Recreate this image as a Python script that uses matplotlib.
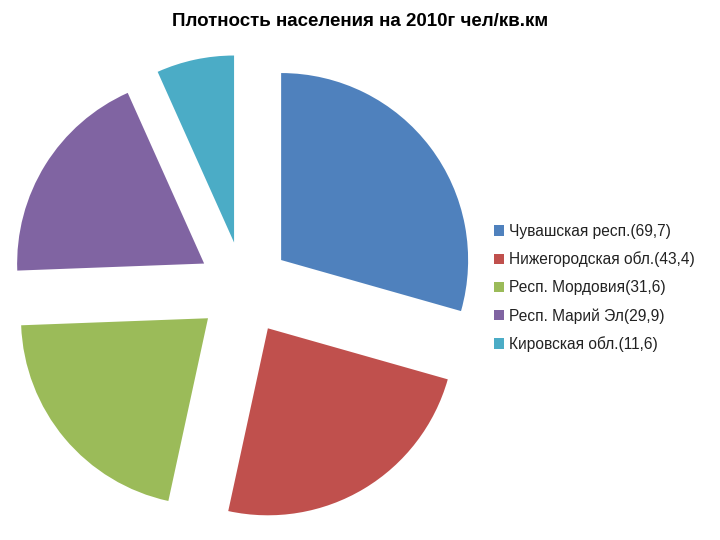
import matplotlib
matplotlib.use('Agg')
import matplotlib.pyplot as plt

TITLE = 'Плотность населения на 2010г чел/кв.км'
legend_labels = [
    'Чувашская респ.(69,7)',
    'Нижегородская обл.(43,4)',
    'Респ. Мордовия(31,6)',
    'Респ. Марий Эл(29,9)',
    'Кировская обл.(11,6)',
]
# slice shares as drawn in the picture
shares = [29.4, 24.0, 21.0, 18.9, 6.7]
colors = ['#4F81BD', '#C0504D', '#9BBB59', '#8064A2', '#4BACC6']


def main():
    plt.rcParams['font.family'] = ['Liberation Sans', 'DejaVu Sans']
    fig = plt.figure(figsize=(7.2, 5.4), dpi=100)
    ax = fig.add_axes([0, 0, 480 / 720, 500 / 540])
    wedges, _ = ax.pie(
        shares,
        colors=colors,
        startangle=90,
        counterclock=False,
        explode=[0.25] * len(shares),
    )
    ax.set_xlim(-1.304, 1.263)
    ax.set_ylim(-1.346, 1.327)
    ax.axis('off')

    fig.text(0.5, 1 - 21 / 540, TITLE, ha='center', va='center',
             fontsize=13.5, fontweight='bold')

    fig.legend(wedges, legend_labels, loc='center left',
               bbox_to_anchor=(494 / 720, 1 - 288 / 540),
               frameon=False, fontsize=11.2, handlelength=0.65,
               handleheight=0.65, handletextpad=0.3, labelspacing=0.82,
               borderpad=0, borderaxespad=0, labelcolor='#222222')
    fig.savefig('out.png', dpi=100)


if __name__ == '__main__':
    main()
